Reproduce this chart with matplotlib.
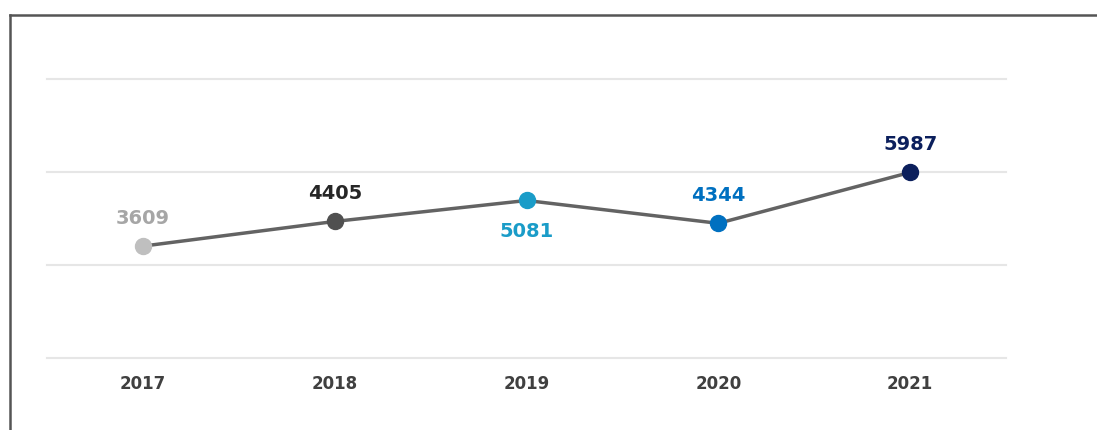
import matplotlib.pyplot as plt
from matplotlib.lines import Line2D

# Datos del gráfico
years = ['2017', '2018', '2019', '2020', '2021']
values = [3609, 4405, 5081, 4344, 5987]
point_colors = ['#bfbfbf', '#505050', '#1a9cc8', '#0070c0', '#0b1f5c']
label_colors = ['#a6a6a6', '#262626', '#1a9cc8', '#0070c0', '#0b1f5c']
label_pos = ['above', 'above', 'below', 'above', 'above']

fig = plt.figure(figsize=(10.97, 4.30), dpi=100)
ax = fig.add_axes([47 / 1097, 72 / 430, 959 / 1097, 279 / 430])

x = range(len(years))
ax.plot(x, values, color='#636363', lw=2.5, zorder=2)
for i, v in enumerate(values):
    ax.plot(i, v, 'o', ms=11.5, color=point_colors[i], zorder=3)
    dy = 20 if label_pos[i] == 'above' else -22
    ax.annotate(str(v), (i, v), xytext=(0, dy), textcoords='offset points',
                ha='center', va='center', fontsize=14, fontweight='bold',
                color=label_colors[i])

ax.set_xlim(-0.5, len(years) - 0.5)
ax.set_ylim(0, 9000)
ax.set_yticks([0, 3000, 6000, 9000])
ax.yaxis.grid(True, color='#e6e6e6', lw=1.5)
for gl in ax.get_ygridlines():
    gl.set_clip_on(False)
ax.set_axisbelow(True)
ax.set_yticklabels([])
ax.set_xticks(list(x))
ax.set_xticklabels(years, fontsize=12, fontweight='bold', color='#404040')
ax.tick_params(axis='both', length=0)
ax.tick_params(axis='x', pad=12)
for s in ax.spines.values():
    s.set_visible(False)

# borde superior e izquierdo de la imagen
fig.add_artist(Line2D([10 / 1097, 1], [1 - 15 / 430, 1 - 15 / 430], color='#555555', lw=1.8))
fig.add_artist(Line2D([10 / 1097, 10 / 1097], [0, 1 - 15 / 430], color='#555555', lw=1.8))

fig.savefig('out.png', dpi=100)
